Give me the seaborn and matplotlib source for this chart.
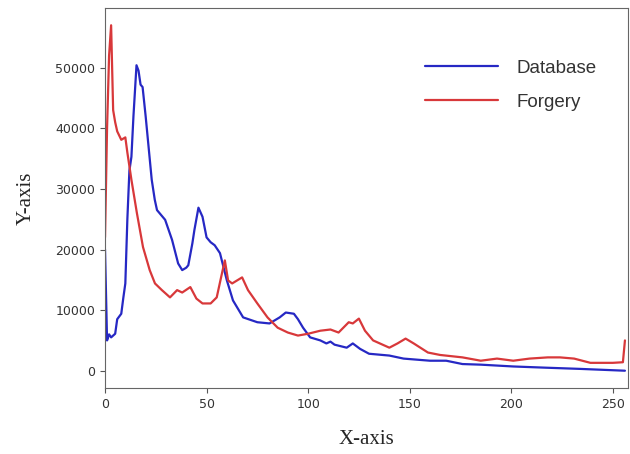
import matplotlib
matplotlib.use('Agg')
import matplotlib.pyplot as plt
import seaborn as sns

# Database histogram
db_x = [0, 1, 2, 3, 5, 6, 8, 9, 10, 11, 12, 13, 14, 15.5, 16.5, 17.5, 18.5, 20, 22, 23,
        24.5, 25.6, 29.6, 33, 36, 38, 40, 41, 43, 44, 46, 48, 50, 52, 54, 56.6, 60, 63,
        68, 75, 81, 86, 89, 93, 95, 97.5, 101, 106, 109, 111, 113, 119, 122, 125.6, 130,
        140, 147, 160, 168, 176, 185, 201, 217, 234, 256]
db_y = [20000, 5000, 6000, 5500, 6100, 8500, 9400, 12000, 14400, 25000, 33000, 35300,
        42000, 50400, 49500, 47200, 46800, 42000, 35000, 31500, 28200, 26500, 24900,
        21600, 17700, 16600, 17000, 17400, 21000, 23200, 26900, 25400, 22000, 21200,
        20700, 19400, 14900, 11600, 8800, 8000, 7800, 8800, 9600, 9400, 8500, 7100, 5500,
        5000, 4500, 4800, 4300, 3800, 4500, 3600, 2800, 2500, 2000, 1650, 1650, 1100,
        1000, 700, 500, 300, 0]

# Forgery histogram
fg_x = [0, 1, 2, 3, 4, 5, 6, 8, 10, 11, 13, 15.7, 18.7, 22, 24.6, 28, 32, 35.5, 38, 42,
        45, 48, 52, 55, 57.6, 59, 60.6, 62.6, 67.5, 70.4, 75, 80, 85, 90, 95, 100, 106,
        111, 115, 120, 122, 125, 128, 132, 140, 144, 148, 152, 159, 165, 176, 185, 193,
        201, 209, 218, 224, 231, 239, 250, 255, 256]
fg_y = [22000, 40000, 52000, 57000, 43000, 41000, 39500, 38100, 38500, 36000, 31500,
        26000, 20400, 16600, 14400, 13300, 12100, 13300, 12900, 13800, 11900, 11100,
        11100, 12100, 16100, 18200, 14900, 14400, 15400, 13300, 11100, 8800, 7100, 6300,
        5800, 6100, 6600, 6800, 6300, 8000, 7800, 8600, 6600, 5000, 3800, 4500, 5300,
        4500, 3000, 2600, 2200, 1650, 2000, 1650, 2000, 2200, 2200, 2000, 1300, 1300,
        1400, 5000]

sns.set_style('ticks')
fig = plt.figure(figsize=(6.3, 4.54), dpi=100)
ax = fig.add_axes([0.1667, 0.1454, 0.8301, 0.837])

sns.lineplot(x=db_x, y=db_y, ax=ax, color='#2628c4', lw=1.6, label='Database')
sns.lineplot(x=fg_x, y=fg_y, ax=ax, color='#d8383a', lw=1.6, label='Forgery')

ax.set_xlim(0, 257.5)
ax.set_xticks([0, 50, 100, 150, 200, 250])
ax.set_yticks([0, 10000, 20000, 30000, 40000, 50000])
ax.tick_params(labelsize=9, colors='#555555', labelcolor='#333333')
for s in ax.spines.values():
    s.set_color('#666666')

ax.set_xlabel('X-axis', family='Liberation Serif', fontsize=15, labelpad=14)
ax.set_ylabel('Y-axis', family='Liberation Serif', fontsize=15, labelpad=14)

leg = ax.legend(loc='upper right', bbox_to_anchor=(0.972, 0.908), frameon=False,
                prop={'family': 'Liberation Sans', 'size': 13.5},
                handlelength=3.85, labelspacing=0.9, handletextpad=1.0)
for t in leg.get_texts():
    t.set_color('#333333')

fig.savefig('out.png', dpi=100)
